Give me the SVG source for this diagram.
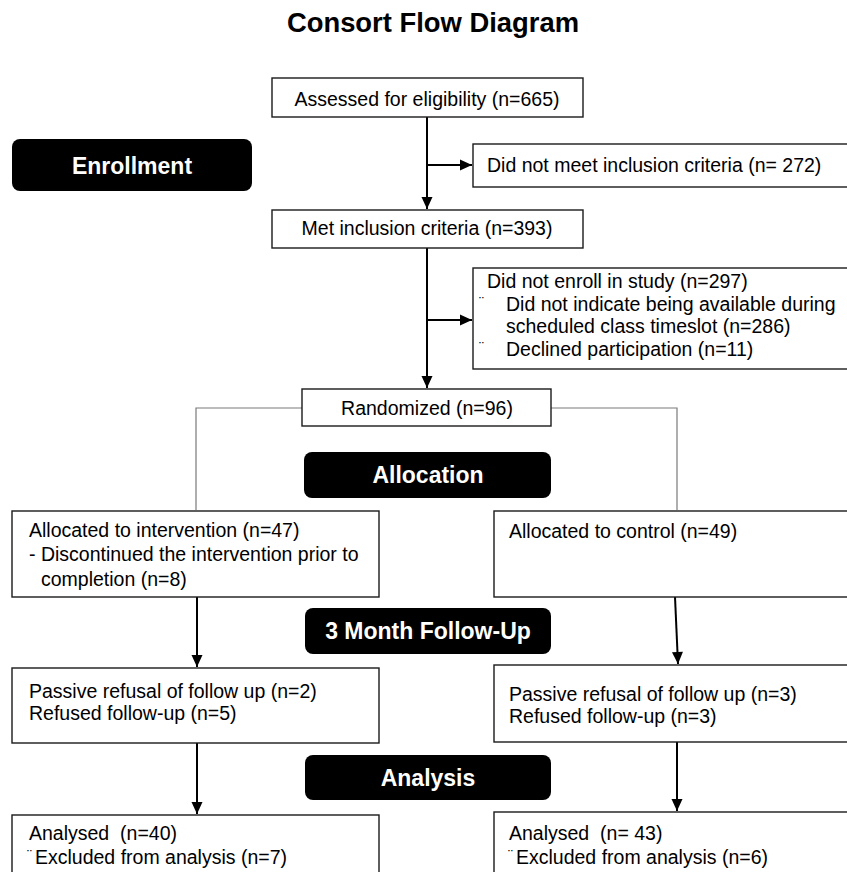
<svg xmlns="http://www.w3.org/2000/svg" width="847" height="872" viewBox="0 0 847 872">
<style>
.box{fill:#fff;stroke:#1a1a1a;stroke-width:1.4}
.stage{fill:#000}
.t{font-family:"Liberation Sans",Arial,sans-serif;font-size:19.5px;fill:#000;white-space:pre}
.st{font-family:"Liberation Sans",Arial,sans-serif;font-size:23px;font-weight:bold;fill:#fff;text-anchor:middle}
.title{font-family:"Liberation Sans",Arial,sans-serif;font-size:27.4px;font-weight:bold;fill:#000;text-anchor:middle}
.bul{font-family:"Liberation Sans",Arial,sans-serif;font-size:15px;fill:#000}
.c{stroke:#000;stroke-width:2;fill:none}
.g{stroke:#7a7a7a;stroke-width:1.2;fill:none}
</style>
<defs>
<marker id="ah" markerUnits="userSpaceOnUse" markerWidth="14" markerHeight="14" viewBox="0 0 14 14" refX="13" refY="7" orient="auto">
<path d="M1,1.5 L13,7 L1,12.5 Z" fill="#000"/>
</marker>
</defs>
<rect width="847" height="872" fill="#fff"/>
<text class="title" x="433" y="32">Consort Flow Diagram</text>

<g id="connectors">
<line class="c" x1="427" y1="117" x2="427" y2="209" marker-end="url(#ah)"/>
<line class="c" x1="427" y1="165" x2="472" y2="165" marker-end="url(#ah)"/>
<line class="c" x1="427" y1="248" x2="427" y2="388" marker-end="url(#ah)"/>
<line class="c" x1="427" y1="320" x2="472" y2="320" marker-end="url(#ah)"/>
<polyline class="g" points="302,408 196,408 196,510"/>
<polyline class="g" points="551,408 677,408 677,510"/>
<line class="c" x1="197" y1="597" x2="197" y2="667" marker-end="url(#ah)"/>
<line class="c" x1="675" y1="597" x2="678" y2="664" marker-end="url(#ah)"/>
<line class="c" x1="197" y1="743" x2="197" y2="814" marker-end="url(#ah)"/>
<line class="c" x1="677" y1="742" x2="677" y2="811" marker-end="url(#ah)"/>
</g>

<g id="title-enrollment">
<rect class="stage" x="12" y="139" width="240" height="52" rx="8"/>
<text class="st" x="132" y="174">Enrollment</text>
</g>
<g id="assessed">
<rect class="box" x="272" y="78" width="311" height="39"/>
<text class="t" x="427" y="106" text-anchor="middle">Assessed for eligibility (n=665)</text>
</g>
<g id="not-meet">
<rect class="box" x="473" y="144" width="380" height="43"/>
<text class="t" x="487" y="172">Did not meet inclusion criteria (n= 272)</text>
</g>
<g id="met">
<rect class="box" x="272" y="210" width="311" height="38"/>
<text class="t" x="427" y="235" text-anchor="middle">Met inclusion criteria (n=393)</text>
</g>
<g id="not-enroll">
<rect class="box" x="473" y="268" width="380" height="101"/>
<text class="t" x="487" y="288">Did not enroll in study (n=297)</text>
<text class="bul" x="479" y="307">¨</text>
<text class="t" x="506" y="310.5">Did not indicate being available during</text>
<text class="t" x="506" y="333">scheduled class timeslot (n=286)</text>
<text class="bul" x="479" y="352">¨</text>
<text class="t" x="506" y="355.5">Declined participation (n=11)</text>
</g>
<g id="randomized">
<rect class="box" x="302" y="389" width="249" height="37"/>
<text class="t" x="427" y="415" text-anchor="middle">Randomized (n=96)</text>
</g>
<g id="title-allocation">
<rect class="stage" x="304" y="452" width="247" height="46" rx="8"/>
<text class="st" x="428" y="483">Allocation</text>
</g>
<g id="alloc-intervention">
<rect class="box" x="12" y="511" width="367" height="86"/>
<text class="t" x="29" y="537">Allocated to intervention (n=47)</text>
<text class="t" x="29" y="561">- Discontinued the intervention prior to</text>
<text class="t" x="41" y="586">completion (n=8)</text>
</g>
<g id="alloc-control">
<rect class="box" x="494" y="511" width="360" height="86"/>
<text class="t" x="509" y="538">Allocated to control (n=49)</text>
</g>
<g id="title-followup">
<rect class="stage" x="305" y="608" width="246" height="46" rx="8"/>
<text class="st" x="428" y="639">3 Month Follow-Up</text>
</g>
<g id="followup-intervention">
<rect class="box" x="12" y="668" width="367" height="75"/>
<text class="t" x="29" y="698">Passive refusal of follow up (n=2)</text>
<text class="t" x="29" y="720">Refused follow-up (n=5)</text>
</g>
<g id="followup-control">
<rect class="box" x="494" y="665" width="360" height="77"/>
<text class="t" x="509" y="701">Passive refusal of follow up (n=3)</text>
<text class="t" x="509" y="723">Refused follow-up (n=3)</text>
</g>
<g id="title-analysis">
<rect class="stage" x="305" y="755" width="246" height="45" rx="8"/>
<text class="st" x="428" y="786">Analysis</text>
</g>
<g id="analysed-intervention">
<rect class="box" x="12" y="815" width="367" height="70"/>
<text class="t" x="29" y="840">Analysed  (n=40)</text>
<text class="bul" x="27" y="860">¨</text>
<text class="t" x="35" y="864">Excluded from analysis (n=7)</text>
</g>
<g id="analysed-control">
<rect class="box" x="494" y="812" width="360" height="73"/>
<text class="t" x="509" y="840">Analysed  (n= 43)</text>
<text class="bul" x="508" y="860">¨</text>
<text class="t" x="516" y="864">Excluded from analysis (n=6)</text>
</g>
</svg>
